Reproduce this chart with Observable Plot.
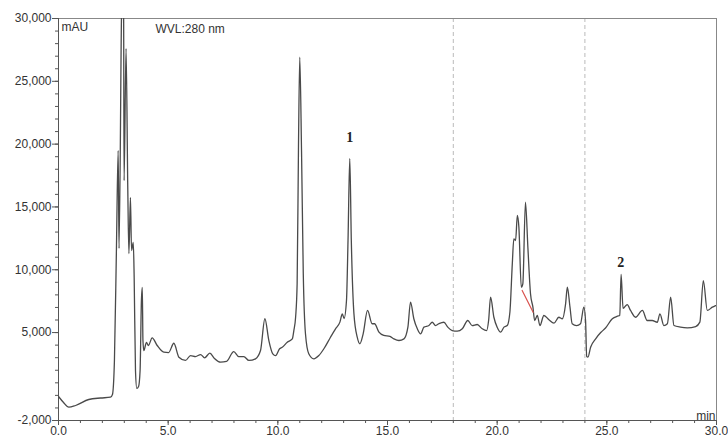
<!DOCTYPE html>
<html>
<head>
<meta charset="utf-8">
<script src="https://cdn.jsdelivr.net/npm/d3@7"></script>
<script src="https://cdn.jsdelivr.net/npm/@observablehq/plot@0.6"></script>
<style>
  html, body { margin: 0; padding: 0; background: #fff; }
  #chart { width: 728px; height: 439px; }
</style>
</head>
<body>
<div id="chart"></div>
<script>
// Retention time (min)
const times = [
  0, 0.23, 0.47, 0.78, 1.38, 1.92, 2.37, 2.46, 2.55, 2.64, 2.72, 2.76, 2.87, 2.92, 2.97, 2.99,
  3.08, 3.16, 3.21, 3.28, 3.33, 3.41, 3.45, 3.51, 3.57, 3.65, 3.72, 3.78, 3.82, 3.85, 3.89,
  4.01, 4.1, 4.27, 4.5, 4.8, 5.02, 5.26, 5.49, 5.79, 6.02, 6.25, 6.48, 6.66, 6.9, 7.11, 7.39,
  7.66, 7.99, 8.22, 8.45, 8.68, 8.98, 9.21, 9.41, 9.59, 9.77, 9.9, 10.08, 10.2, 10.43, 10.66,
  10.73, 10.81, 10.88, 10.94, 11.0, 11.08, 11.16, 11.26, 11.41, 11.64, 11.87, 12.1, 12.4,
  12.63, 12.83, 12.94, 13.02, 13.13, 13.2, 13.28, 13.35, 13.47, 13.62, 13.74, 13.89, 14.09,
  14.3, 14.41, 14.61, 14.83, 15.11, 15.29, 15.52, 15.75, 15.93, 16.05, 16.2, 16.36, 16.51,
  16.66, 16.89, 17.04, 17.19, 17.34, 17.57, 17.75, 17.95, 18.18, 18.41, 18.66, 18.86, 19.09,
  19.32, 19.52, 19.61, 19.7, 19.85, 20.0, 20.16, 20.31, 20.46, 20.58, 20.69, 20.76, 20.84,
  20.92, 20.99, 21.1, 21.17, 21.29, 21.4, 21.52, 21.63, 21.71, 21.83, 21.95, 22.13, 22.36,
  22.59, 22.81, 22.97, 23.12, 23.2, 23.32, 23.42, 23.62, 23.8, 23.95, 24.03, 24.08, 24.14,
  24.26, 24.49, 24.72, 24.94, 25.25, 25.48, 25.59, 25.65, 25.74, 25.93, 26.08, 26.31, 26.62,
  26.84, 27.07, 27.3, 27.42, 27.6, 27.76, 27.91, 28.06, 28.36, 28.67, 29.05, 29.24, 29.4,
  29.58, 29.81, 29.96
];
// Absorbance (mAU)
const signal = [
  -90, -567, -941, -806, -328, -209, -145, 70, 2776, 11532, 19492, 11691, 30000, 36000, 30000, 17100,
  27600, 16300, 11290, 15750, 11530, 12170, 9380, 1980, 550, 700, 1980, 7550, 8590, 4370, 3570,
  4210, 3970, 4580, 3970, 3440, 3410, 4150, 3040, 2780, 3170, 3090, 3250, 2990, 3360, 2940, 2640,
  2700, 3490, 3090, 3090, 2780, 2910, 3570, 6100, 4370, 3310, 3170, 3710, 3830, 4230, 4500,
  5160, 6220, 8880, 19500, 26920, 19500, 9680, 4900, 3310, 2910, 3170, 3710, 4630,
  5300, 5830, 6490, 6120, 7550, 12330, 18860, 12330, 6490, 4630, 4110, 4900, 6760,
  5700, 5700, 5030, 4770, 4690, 4500, 4370, 4500, 5430, 7420, 6100, 5300, 4900,
  5430, 5560, 5820, 5560, 5700, 5820, 5430, 5160, 5110, 5300, 5960, 5560, 5640,
  5300, 5160, 5960, 7810, 6220, 5430, 5030, 5430, 5560, 6620, 10470, 12460, 12330,
  14320, 13390, 8610, 8880, 15380, 11790, 8090, 7020, 5960, 6360, 5560, 6360, 6020,
  5750, 6220, 6100, 7290, 8610, 7020, 5700, 5560, 5700, 7020, 5960, 3090, 3050,
  3830, 4500, 5000, 5360, 6100, 6300, 6360, 9620, 6920, 7230, 6760, 6220, 6760,
  5960, 5960, 5820, 6490, 5560, 5700, 7810, 5560, 5430, 5380, 5480, 5830, 9140,
  6760, 7020, 7150
];
// Red integration baseline segment
const baseTimes = [21.14, 21.64];
const baseValues = [8350, 6620];
// Dashed markers (min)
const markerTimes = [18, 24];
// Peak labels
const peakLabels = ["1", "2"];
const labelTimes = [13.28, 25.63];
const labelValues = [20530, 10580];
// Axis ticks
const yTicks = [-2000, 5000, 10000, 15000, 20000, 25000, 30000];
const yMinor = d3.range(-2000, 30001, 1000);
const xTicks = [0, 5, 10, 15, 20, 25, 30];
const xMinor = d3.range(0, 31, 1);

const trace = times.map((t, i) => ({t, v: signal[i]}));
const base = baseTimes.map((t, i) => ({t, v: baseValues[i]}));
const labels = peakLabels.map((s, i) => ({s, t: labelTimes[i], v: labelValues[i]}));
const fmtY = d => (d < 0 ? "-" : "") + Math.abs(d).toLocaleString("en-US");

const axisColor = "#555";
const plot = Plot.plot({
  width: 728,
  height: 439,
  marginLeft: 58,
  marginRight: 12,
  marginTop: 18,
  marginBottom: 19,
  style: {fontFamily: "'Liberation Sans', Arial, sans-serif", fontSize: "12px", color: "#333", background: "#fff"},
  x: {domain: [0, 30]},
  y: {domain: [-2000, 30000]},
  marks: [
    Plot.ruleX(markerTimes, {stroke: "#bbb", strokeDasharray: "4,3", strokeWidth: 1}),
    Plot.frame({stroke: "#888", strokeWidth: 1}),
    Plot.axisX(xMinor, {tickSize: 3, tickFormat: () => "", label: null, stroke: axisColor}),
    Plot.axisX(xTicks, {tickSize: 5, tickPadding: 1, tickFormat: d => d.toFixed(1), label: null, stroke: axisColor, fill: "#333"}),
    Plot.axisY(yMinor, {tickSize: 3, tickFormat: () => "", label: null, stroke: axisColor}),
    Plot.axisY(yTicks, {tickSize: 6, tickPadding: 1, tickFormat: fmtY, label: null, stroke: axisColor, fill: "#333"}),
    Plot.ruleY([-2000], {stroke: axisColor}),
    Plot.ruleX([0], {stroke: axisColor}),
    Plot.line(trace, {x: "t", y: "v", stroke: "#4a4a4a", strokeWidth: 1.3, curve: "monotone-x", clip: true}),
    Plot.line(base, {x: "t", y: "v", stroke: "#d9534f", strokeWidth: 1.2}),
    Plot.text(labels, {x: "t", y: "v", text: "s", fontFamily: "'Liberation Serif', 'Times New Roman', serif", fontSize: 14, fontWeight: "bold", fill: "#222"}),
    Plot.text(["mAU"], {frameAnchor: "top-left", dx: 3, dy: 4, fill: "#333", fontSize: 12}),
    Plot.text(["WVL:280 nm"], {frameAnchor: "top-left", dx: 97, dy: 6, fill: "#333", fontSize: 12}),
    Plot.text(["min"], {frameAnchor: "bottom-right", dx: -1, dy: -1, fill: "#333", fontSize: 12})
  ]
});
document.getElementById("chart").appendChild(plot);
</script>
</body>
</html>
